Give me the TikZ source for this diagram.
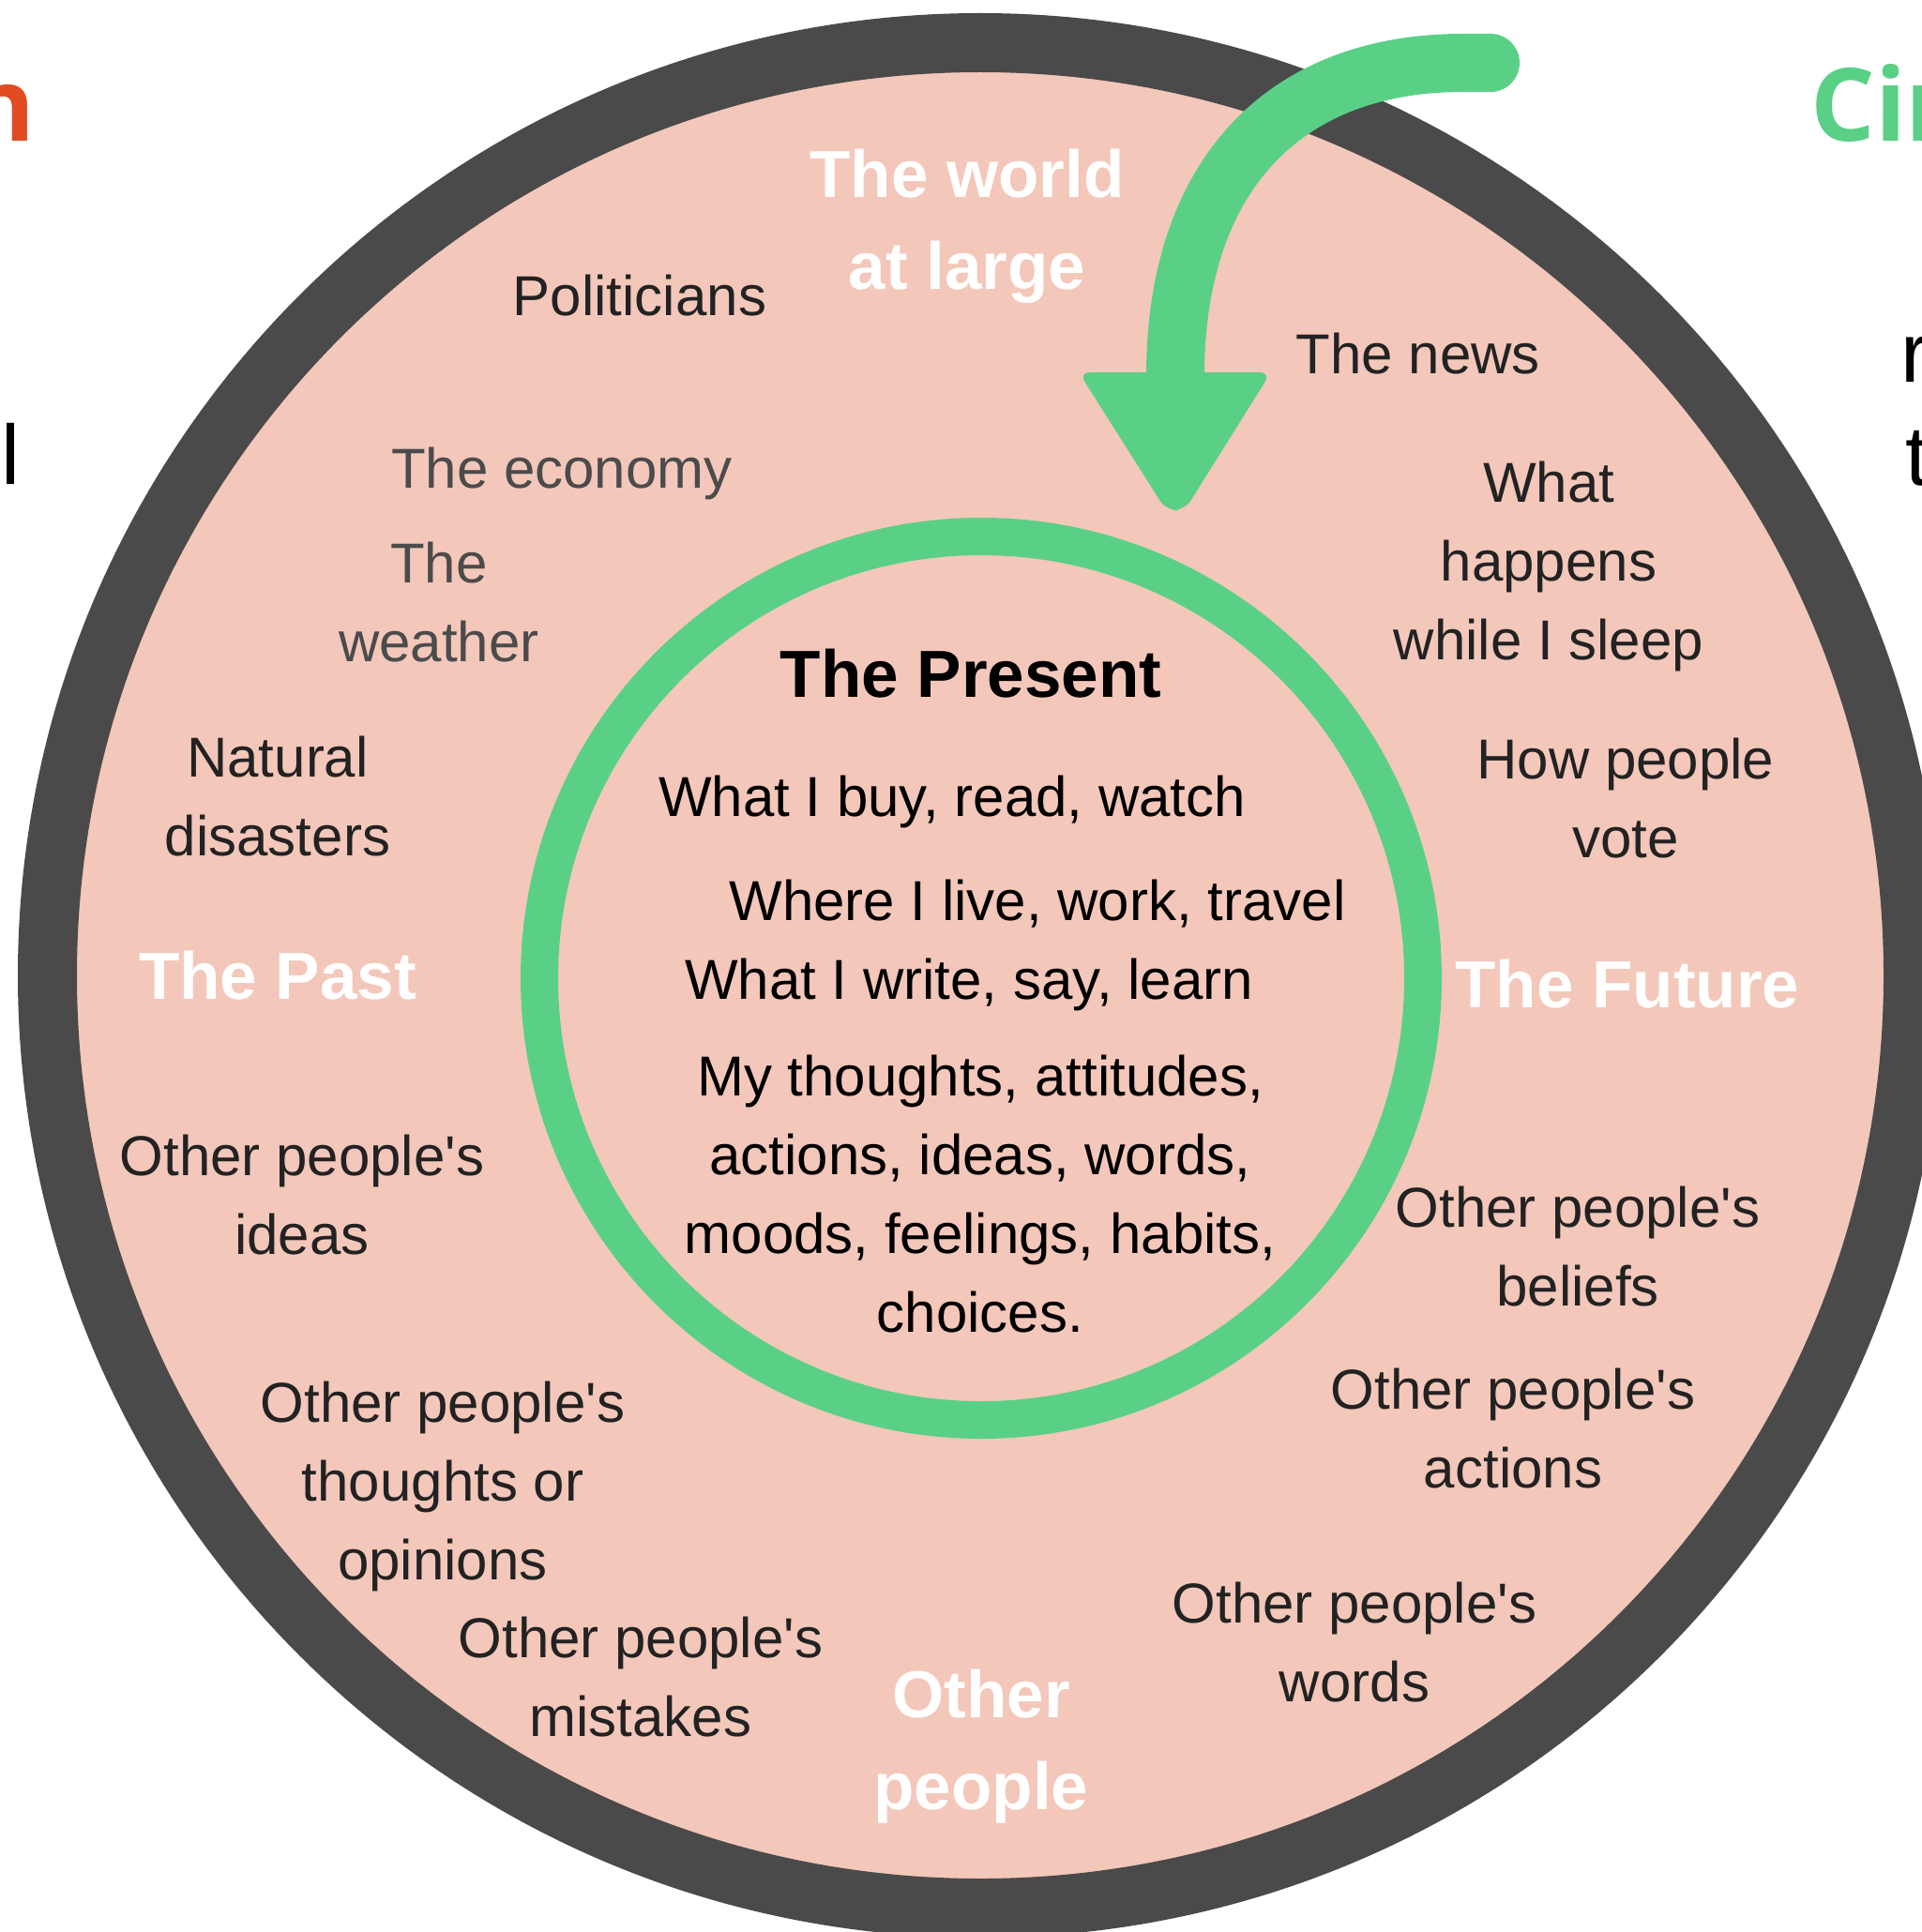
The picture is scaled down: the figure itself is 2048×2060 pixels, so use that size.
\documentclass[tikz,border=0pt]{standalone}
\usepackage{fontspec}
\setmainfont{Liberation Sans}
\newfontfamily\titlefont{Open Sans}
\definecolor{pinkbg}{HTML}{F3C7BA}
\definecolor{ringdark}{HTML}{4A4A4A}
\definecolor{ctrlgreen}{HTML}{5AD087}
\definecolor{concorange}{HTML}{E04B21}
\definecolor{txtdark}{HTML}{222222}
\definecolor{txtgray}{HTML}{4B4B4B}
\newcommand{\ml}[1]{\begin{tabular}[t]{@{}c@{}}#1\end{tabular}}
\newcommand{\ap}{\textquotesingle}
\tikzset{
  outerT/.style={font=\fontsize{60}{84}\selectfont, text=txtdark, anchor=base, inner sep=0pt},
  grayT/.style={outerT, text=txtgray},
  innerT/.style={outerT, text=black},
  presentT/.style={font=\fontsize{71}{98}\selectfont\bfseries, text=black, anchor=base, inner sep=0pt},
  labelT/.style={font=\fontsize{71}{98}\selectfont\bfseries, text=white, anchor=base, inner sep=0pt},
  titleT/.style={font=\titlefont\bfseries\fontsize{108}{130}\selectfont, anchor=base west, inner sep=0pt},
  edgeT/.style={font=\fontsize{90}{110}\selectfont, text=black, anchor=base west, inner sep=0pt},
}
\begin{document}
\begin{tikzpicture}[x=1pt,y=-1pt]
\useasboundingbox (0,0) rectangle (2048,2060);
\fill[white] (0,0) rectangle (2048,2060);
% circles
\coordinate (C) at (1045,1040);
\coordinate (G) at (1046,1043);
\fill[pinkbg] (C) circle[radius=1000pt];
\draw[ringdark, line width=63pt] (C) circle[radius=994.5pt];
\draw[ctrlgreen, line width=40pt] (G) circle[radius=471pt];
% curved arrow
\coordinate (tailend) at (1589,67);
\coordinate (tailbend) at (1560,67);
\coordinate (shaftend) at (1253,400);
\draw[ctrlgreen, line width=62pt, line cap=round]
  (tailend) -- (tailbend) .. controls (1360,67) and (1253,197) .. (shaftend);
\coordinate (headL) at (1150,397);
\coordinate (headR) at (1355,397);
\coordinate (headTR) at (1263,544);
\coordinate (headTL) at (1243,544);
\fill[ctrlgreen, rounded corners=12pt] (headL) -- (headR) -- (headTR) -- (headTL) -- cycle;
% edge fragments
\node[titleT, text=concorange, anchor=base east] (concern) at (38,151) {n};
\node[titleT, text=ctrlgreen] (control) at (1930,151) {Cir};
\node[edgeT] (leftl) at (1,516) {l};
\node[edgeT] (rightr) at (2026,407) {r};
\node[edgeT] (rightt) at (2031,517) {t};
% outer ring texts
\node[outerT] (politicians) at (682,336) {Politicians};
\node[outerT] (news) at (1512,398) {The news};
\node[grayT] (economy) at (599,520) {The economy};
\node[grayT] (weather) at (468,621) {\ml{The\\weather}};
\node[outerT] (sleep) at (1651,535) {\ml{What\\happens\\while I sleep}};
\node[outerT] (disasters) at (296,828) {\ml{Natural\\disasters}};
\node[outerT] (vote) at (1733,830) {\ml{How people\\vote}};
\node[outerT] (ideas) at (322,1253) {\ml{Other people\ap s\\ideas}};
\node[outerT] (beliefs) at (1682,1308) {\ml{Other people\ap s\\beliefs}};
\node[outerT] (actions) at (1613,1502) {\ml{Other people\ap s\\actions}};
\node[outerT] (opinions) at (472,1516) {\ml{Other people\ap s\\thoughts or\\opinions}};
\node[outerT] (mistakes) at (683,1767) {\ml{Other people\ap s\\mistakes}};
\node[outerT] (words) at (1444,1730) {\ml{Other people\ap s\\words}};
% category labels
\node[labelT] (world) at (1031,211) {\ml{The world\\at large}};
\node[labelT] (past) at (296,1065) {The Past};
\node[labelT] (future) at (1735,1074) {The Future};
\node[labelT] (others) at (1046,1831) {\ml{Other\\people}};
% inner circle texts
\node[presentT] (present) at (1035,743) {The Present};
\node[innerT] (buy) at (1015,870) {What I buy, read, watch};
\node[innerT] (live) at (1106,981) {Where I live, work, travel};
\node[innerT] (write) at (1033,1065) {What I write, say, learn};
\node[innerT] (thoughts) at (1045,1168) {\ml{My thoughts, attitudes,\\actions, ideas, words,\\moods, feelings, habits,\\choices.}};
\end{tikzpicture}
\end{document}
